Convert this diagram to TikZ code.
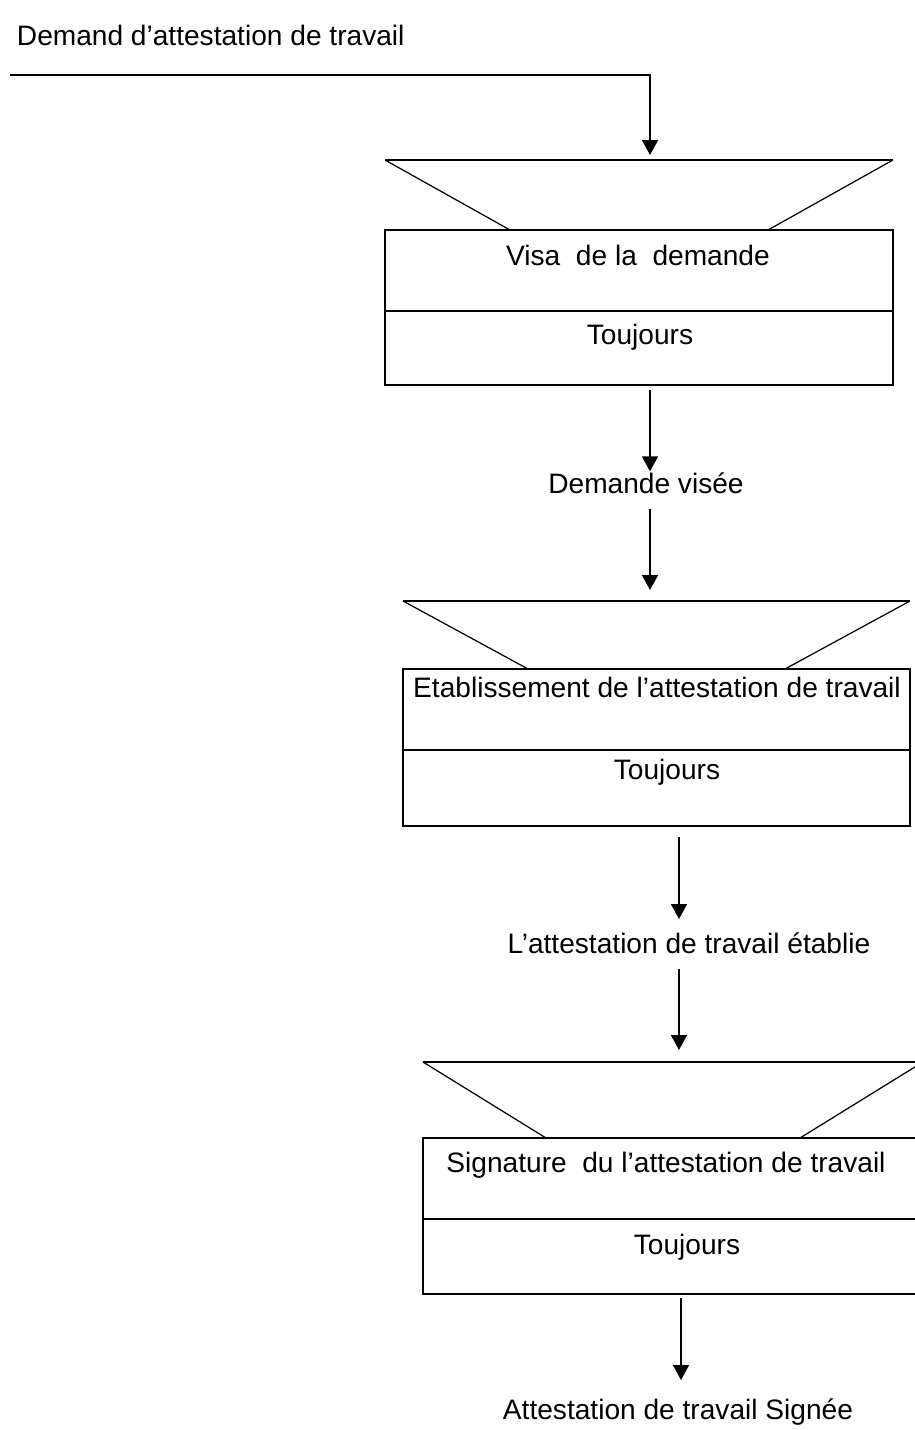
\documentclass[tikz,border=0pt]{standalone}
\usepackage{fontspec}
\setmainfont{Liberation Sans}
\usetikzlibrary{arrows.meta}

\begin{document}
\begin{tikzpicture}[x=0.02cm,y=-0.02cm,line width=1.1pt,
  flow/.style={-{Triangle[length=8.5pt,width=9pt]}},
  opbox/.style={draw,inner sep=0pt,outer sep=0pt},
  trap/.style={line width=0.7pt},
  txt/.style={font=\fontsize{16}{19}\selectfont,inner sep=0pt,anchor=base}]
\useasboundingbox (0,0) rectangle (915,1430);

\node[txt,anchor=base west] (src) at (16,45) {Demand d’attestation de travail};

% operation 1
\node[opbox,minimum width=10.16cm,minimum height=3.1cm] (op1) at (639,307.5) {};
\draw[trap] (op1.north west) ++(125,0) -- ++(-125,-70) coordinate (t1);
\draw[trap] (op1.north east) ++(-125,0) -- ++(125,-70) coordinate (t2);
\draw (t1) -- (t2);
\draw (op1.north west) ++(0,81) -- ++(508,0);
\node[txt] (op1a) at (638,265) {Visa\ \ de la\ \ demande};
\node[txt] (op1b) at (640,344) {Toujours};

% operation 2
\node[opbox,minimum width=10.14cm,minimum height=3.14cm] (op2) at (656.5,747.5) {};
\draw[trap] (op2.north west) ++(125,0) -- ++(-125,-68) coordinate (t3);
\draw[trap] (op2.north east) ++(-125,0) -- ++(125,-68) coordinate (t4);
\draw (t3) -- (t4);
\draw (op2.north west) ++(0,81) -- ++(507,0);
\node[txt] (op2a) at (657,697) {Etablissement de l’attestation de travail};
\node[txt] (op2b) at (667,779) {Toujours};

% operation 3
\node[opbox,minimum width=10cm,minimum height=3.12cm] (op3) at (673,1216) {};
\draw[trap] (op3.north west) ++(123,0) -- ++(-123,-76) coordinate (t5);
\draw[trap] (op3.north east) ++(-123,0) -- ++(123,-76) coordinate (t6);
\draw (t5) -- (t6);
\draw (op3.north west) ++(0,81) -- ++(500,0);
\node[txt] (op3a) at (666,1172) {Signature\ \ du l’attestation de travail};
\node[txt] (op3b) at (687,1254) {Toujours};

% results
\node[txt] (res1) at (646,493) {Demande visée};
\node[txt] (res2) at (689,953) {L’attestation de travail établie};
\node[txt] (res3) at (678,1419) {Attestation de travail Signée};

\coordinate (s0) at (10,75);
\coordinate (in1) at (650,155);
\coordinate (out1) at (650,390);
\coordinate (in2) at (650,590);
\coordinate (out2) at (679,837);
\coordinate (in3) at (679,1050);
\coordinate (out3) at (681,1298);

\draw[flow] (s0) -| (in1);
\draw[flow] (out1) -- (out1 |- res1.north);
\draw[flow] (out1 |- res1.south) ++(0,15) -- (in2);
\draw[flow] (out2) -- ++(0,82);
\draw[flow] (out2 |- res2.south) ++(0,15) -- (in3);
\draw[flow] (out3) -- ++(0,82);
\end{tikzpicture}
\end{document}
